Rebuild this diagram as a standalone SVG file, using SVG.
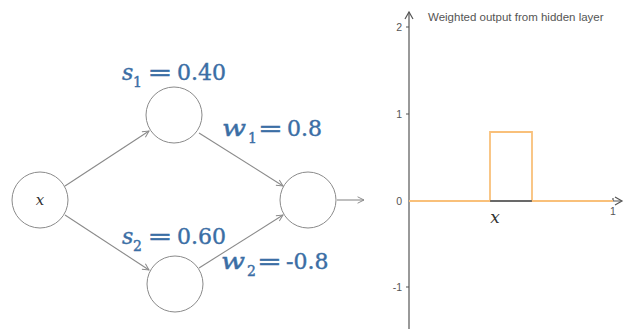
<svg xmlns="http://www.w3.org/2000/svg" width="625" height="329" viewBox="0 0 625 329">
<style>
.node{fill:#fff;stroke:#8a8a8a;stroke-width:1}
.edge{fill:none;stroke:#8a8a8a;stroke-width:1.1}
.lbl{font-family:"DejaVu Serif","Liberation Serif",serif;font-size:22px;fill:#3b6ea5;stroke:#3b6ea5;stroke-width:0.4}
.it{font-style:italic}
.sub{font-size:14px}
.axis{stroke:#555;stroke-width:1.2;fill:none}
.tick{font-family:"Liberation Sans",Arial,sans-serif;font-size:10.5px;fill:#555}
</style>
<defs>
<marker id="arr" viewBox="0 0 10 10" refX="9" refY="5" markerWidth="8" markerHeight="8" orient="auto" markerUnits="userSpaceOnUse">
<path d="M1,1 L9,5 L1,9" fill="none" stroke="#8a8a8a" stroke-width="1.2"/>
</marker>
</defs>
<g id="connectors">
<line class="edge" x1="65" y1="186" x2="149" y2="131" marker-end="url(#arr)"/>
<line class="edge" x1="199" y1="133" x2="283" y2="186" marker-end="url(#arr)"/>
<line class="edge" x1="65" y1="215" x2="149" y2="270" marker-end="url(#arr)"/>
<line class="edge" x1="199" y1="268" x2="283" y2="215" marker-end="url(#arr)"/>
<line class="edge" x1="337" y1="200" x2="364" y2="200" marker-end="url(#arr)"/>
</g>
<g id="node-x">
<circle class="node" cx="40" cy="200" r="28"/>
<text x="40" y="205" text-anchor="middle" font-family="DejaVu Serif,serif" font-style="italic" font-size="15" fill="#333">x</text>
</g>
<g id="node-h1">
<circle class="node" cx="174" cy="115" r="28"/>
</g>
<g id="node-h2">
<circle class="node" cx="175" cy="284" r="28"/>
</g>
<g id="node-out">
<circle class="node" cx="308" cy="200" r="28"/>
</g>
<g id="label-s1">
<text class="lbl it" x="122" y="80">s</text>
<text class="lbl sub" x="133" y="87">1</text>
<text class="lbl" transform="translate(147.5,80) scale(1.35,1)">=</text>
<text class="lbl" x="177" y="80">0.40</text>
</g>
<g id="label-w1">
<text class="lbl it" transform="translate(222,136) scale(1.28,1)">w</text>
<text class="lbl sub" x="248" y="143">1</text>
<text class="lbl" transform="translate(258,136) scale(1.35,1)">=</text>
<text class="lbl" x="287" y="136">0.8</text>
</g>
<g id="label-s2">
<text class="lbl it" x="122" y="244">s</text>
<text class="lbl sub" x="133" y="251">2</text>
<text class="lbl" transform="translate(147.5,244) scale(1.35,1)">=</text>
<text class="lbl" x="177" y="244">0.60</text>
</g>
<g id="label-w2">
<text class="lbl it" transform="translate(221,269) scale(1.28,1)">w</text>
<text class="lbl sub" x="247" y="276">2</text>
<text class="lbl" transform="translate(257,269) scale(1.35,1)">=</text>
<text class="lbl" x="286" y="269">-0.8</text>
</g>
<g id="chart">
<line class="axis" x1="409" y1="12" x2="409" y2="329"/>
<path class="axis" d="M405,19 L409,12 L413,19"/>
<line class="axis" x1="409" y1="201" x2="621" y2="201"/>
<path class="axis" d="M615,197 L622,201 L615,205"/>
<path class="axis" d="M406,27 H409 M406,114 H409 M406,287 H409 M613,198 V201"/>
<text class="tick" x="402" y="31" text-anchor="end">2</text>
<text class="tick" x="402" y="118" text-anchor="end">1</text>
<text class="tick" x="402" y="205" text-anchor="end">0</text>
<text class="tick" x="402" y="291" text-anchor="end">-1</text>
<text class="tick" x="613" y="215" text-anchor="middle">1</text>
<text x="428" y="21" font-family="Liberation Sans,Arial,sans-serif" font-size="11.5" fill="#555">Weighted output from hidden layer</text>
<path d="M409,201 H490 V132 H532 V201 H613" fill="none" stroke="#f9c07a" stroke-width="1.8"/>
<line x1="490" y1="201" x2="532" y2="201" stroke="#555" stroke-width="1.5"/>
<text x="495" y="223" text-anchor="middle" font-family="DejaVu Serif,serif" font-style="italic" font-size="17" fill="#333">x</text>
</g>
</svg>
